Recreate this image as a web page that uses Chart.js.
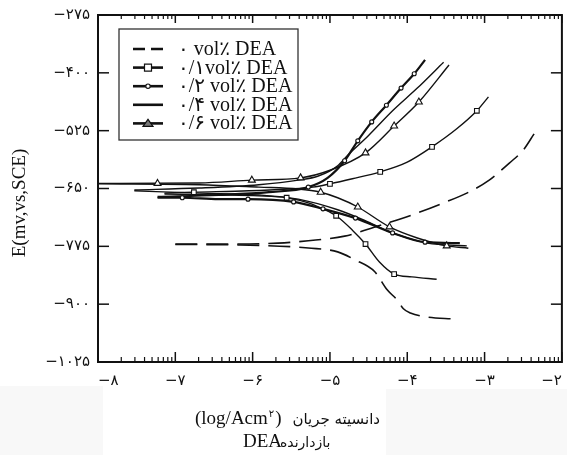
<!DOCTYPE html>
<html>
<head>
<meta charset="utf-8">
<script src="https://cdn.jsdelivr.net/npm/chart.js@4"></script>
<style>
  html, body { margin: 0; padding: 0; background: #fff; }
  #wrap { width: 567px; height: 455px; position: relative; }
</style>
</head>
<body>
<div id="wrap"><canvas id="myChart" width="567" height="455"></canvas></div>
<script>
// tick values and their persian labels
const xTickValues = [-8, -7, -6, -5, -4, -3, -2];
const xTickLabels = ["−۸", "−۷", "−۶", "−۵", "−۴", "−۳", "−۲"];
const yTickValues = [-275, -400, -525, -650, -775, -900, -1025];
const yTickLabels = ["−۲۷۵", "−۴۰۰", "−۵۲۵", "−۶۵۰", "−۷۷۵", "−۹۰۰", "−۱۰۲۵"];

const seriesNames = ["۰ vol٪ DEA", "۰/۱vol٪ DEA", "۰/۲ vol٪ DEA", "۰/۴ vol٪ DEA", "۰/۶ vol٪ DEA"];

// [log i, E] pairs, each branch starts at the corrosion potential
const blankAnodic = [[-7.0,-770],[-6.18,-770],[-5.67,-768],[-5.28,-763],[-4.81,-753],[-4.38,-731],[-4.13,-718],[-3.87,-703],[-3.53,-681],[-3.23,-660],[-2.94,-632],[-2.68,-595],[-2.50,-567],[-2.36,-532]];
const blankCathodic = [[-7.0,-771],[-6.18,-772],[-5.24,-779],[-4.90,-787],[-4.68,-804],[-4.42,-830],[-4.26,-869],[-4.13,-891],[-4.05,-910],[-3.96,-919],[-3.74,-928],[-3.40,-932]];

const dea01Anodic = [[-7.14,-660],[-6.76,-658],[-6.05,-655],[-5.54,-651],[-5.22,-647],[-5.0,-640],[-4.71,-629],[-4.35,-614],[-4.0,-593],[-3.68,-560],[-3.36,-521],[-3.10,-482],[-2.95,-452]];
const dea01Cathodic = [[-7.14,-662],[-6.44,-664],[-5.92,-666],[-5.56,-670],[-5.28,-681],[-5.09,-694],[-4.92,-709],[-4.71,-740],[-4.54,-770],[-4.36,-809],[-4.17,-835],[-3.94,-841],[-3.62,-846]];
const dea01Marks = [[-6.76,-658],[-5.0,-640],[-4.35,-614],[-3.68,-560],[-3.10,-482],[-5.56,-670],[-4.92,-709],[-4.54,-770],[-4.17,-835]];

const dea02Anodic = [[-7.23,-668],[-6.44,-664],[-5.79,-658],[-5.28,-647],[-5.03,-627],[-4.81,-590],[-4.64,-547],[-4.46,-506],[-4.27,-470],[-4.08,-433],[-3.91,-402],[-3.77,-372]];
const dea02Cathodic = [[-7.23,-670],[-6.91,-670],[-6.44,-673],[-6.06,-673],[-5.47,-679],[-5.09,-694],[-4.67,-714],[-4.19,-746],[-3.77,-766],[-3.32,-768]];
const dea02Marks = [[-5.28,-647],[-4.81,-590],[-4.64,-547],[-4.46,-506],[-4.27,-470],[-4.08,-433],[-3.91,-402],[-6.91,-670],[-6.06,-673],[-5.47,-679],[-5.09,-694],[-4.67,-714],[-4.19,-746],[-3.77,-766]];

const dea04Anodic = [[-7.53,-653],[-6.69,-649],[-5.92,-642],[-5.41,-632],[-5.15,-623],[-4.90,-601],[-4.77,-578],[-4.51,-537],[-4.19,-482],[-3.87,-433],[-3.53,-377]];
const dea04Cathodic = [[-7.53,-655],[-6.69,-660],[-5.92,-664],[-5.41,-673],[-4.90,-696],[-4.51,-722],[-4.19,-746],[-3.74,-768],[-3.23,-774]];

const dea06Anodic = [[-8,-639],[-6.69,-638],[-6.01,-632],[-5.38,-627],[-4.99,-610],[-4.54,-573],[-4.17,-515],[-3.85,-463],[-3.46,-383]];
const dea06Cathodic = [[-8,-640],[-6.69,-642],[-5.92,-647],[-5.41,-651],[-5.12,-658],[-4.90,-670],[-4.64,-690],[-4.23,-733],[-3.87,-757],[-3.49,-774],[-3.21,-779]];
const dea06Marks = [[-7.23,-639],[-6.01,-632],[-5.38,-627],[-4.54,-573],[-4.17,-515],[-3.85,-463],[-5.12,-658],[-4.64,-690],[-4.23,-733],[-3.49,-774]];

const INK = "#111";
const pts = (arr) => arr.map(([x, y]) => ({ x, y }));

const lineSet = (arr, extra = {}) => ({
  data: pts(arr),
  showLine: true,
  borderColor: INK,
  borderWidth: 1.4,
  pointRadius: 0,
  cubicInterpolationMode: "monotone",
  order: 2,
  ...extra,
});

const markSet = (arr, style, radius) => ({
  data: pts(arr),
  showLine: false,
  pointStyle: style,
  pointRadius: radius,
  pointBackgroundColor: "#fff",
  pointBorderColor: INK,
  pointBorderWidth: 1.1,
  order: 0,
});

const dashed = { borderDash: [22, 9], borderWidth: 1.6 };
const thick = { borderWidth: 2.2 };

const datasets = [
  lineSet(blankAnodic, dashed),
  lineSet(blankCathodic, dashed),
  lineSet(dea01Anodic),
  lineSet(dea01Cathodic),
  lineSet(dea02Anodic, thick),
  lineSet(dea02Cathodic, thick),
  lineSet(dea04Anodic),
  lineSet(dea04Cathodic),
  lineSet(dea06Anodic),
  lineSet(dea06Cathodic),
  markSet(dea01Marks, "rect", 3.3),
  markSet(dea02Marks, "circle", 2),
  markSet(dea06Marks, "triangle", 4),
];

// legend sample styles
const legendItems = [
  { dash: [12, 6], marker: null },
  { dash: [], marker: "rect" },
  { dash: [], marker: "circle" },
  { dash: [], marker: null },
  { dash: [], marker: "triangle" },
];

const drawMarker = (ctx, style, cx, cy, fill) => {
  ctx.save();
  ctx.fillStyle = fill;
  ctx.strokeStyle = INK;
  ctx.lineWidth = 1.2;
  ctx.beginPath();
  if (style === "rect") {
    ctx.rect(cx - 3.5, cy - 3.5, 7, 7);
  } else if (style === "circle") {
    ctx.arc(cx, cy, 2.2, 0, Math.PI * 2);
  } else if (style === "triangle") {
    ctx.moveTo(cx - 5, cy + 3);
    ctx.lineTo(cx + 5, cy + 3);
    ctx.lineTo(cx, cy - 4);
    ctx.closePath();
  }
  ctx.fill();
  ctx.stroke();
  ctx.restore();
};

const decorations = {
  id: "decorations",
  beforeDraw(chart) {
    const { ctx } = chart;
    ctx.save();
    ctx.fillStyle = "#f8f8f8";
    ctx.fillRect(0, 386, 103, 69);
    ctx.fillRect(386, 389, 181, 66);
    ctx.restore();
  },
  afterDraw(chart) {
    const { ctx, chartArea: a, scales } = chart;
    const x = scales.x, y = scales.y;
    ctx.save();
    ctx.strokeStyle = INK;

    // frame
    ctx.lineWidth = 2;
    ctx.strokeRect(a.left, a.top, a.right - a.left, a.bottom - a.top);

    const seg = (x1, y1, x2, y2) => {
      ctx.beginPath();
      ctx.moveTo(x1, y1);
      ctx.lineTo(x2, y2);
      ctx.stroke();
    };

    // x ticks, major and log minor, pointing inward
    ctx.lineWidth = 1.5;
    xTickValues.forEach((v) => {
      const px = x.getPixelForValue(v);
      seg(px, a.bottom, px, a.bottom - 10);
      seg(px, a.top, px, a.top + 8);
    });
    ctx.lineWidth = 1.2;
    for (let d = -8; d < -2; d++) {
      for (let k = 2; k <= 9; k++) {
        const px = x.getPixelForValue(d + Math.log10(k));
        seg(px, a.bottom, px, a.bottom - 5);
        seg(px, a.top, px, a.top + 4);
      }
    }
    // y ticks
    ctx.lineWidth = 1.5;
    yTickValues.forEach((v) => {
      const py = y.getPixelForValue(v);
      seg(a.left, py, a.left + 11, py);
      seg(a.right, py, a.right - 11, py);
    });

    // legend box
    const box = { l: 119, t: 29, r: 298, b: 140 };
    ctx.fillStyle = "#fff";
    ctx.fillRect(box.l, box.t, box.r - box.l, box.b - box.t);
    ctx.lineWidth = 1.3;
    ctx.strokeStyle = "#333";
    ctx.strokeRect(box.l, box.t, box.r - box.l, box.b - box.t);
    ctx.strokeStyle = INK;
    legendItems.forEach((it, i) => {
      const cy = 49 + i * 18.6;
      ctx.save();
      ctx.lineWidth = 2.6;
      ctx.setLineDash(it.dash);
      seg(133, cy, 163, cy);
      ctx.restore();
      if (it.marker) drawMarker(ctx, it.marker, 148, cy, it.marker === "triangle" ? "#777" : "#fff");
      ctx.fillStyle = INK;
      ctx.font = '20px "Liberation Serif", "DejaVu Sans"';
      ctx.textAlign = "left";
      ctx.textBaseline = "alphabetic";
      ctx.fillText(seriesNames[i], 178, cy + 6);
    });

    // y title
    ctx.save();
    ctx.translate(20, 203);
    ctx.rotate(-Math.PI / 2);
    ctx.fillStyle = INK;
    ctx.font = '19px "Liberation Serif"';
    ctx.textAlign = "center";
    ctx.textBaseline = "middle";
    ctx.fillText("E(mv,vs,SCE)", 0, 0);
    ctx.restore();

    // x title, two lines
    ctx.fillStyle = INK;
    ctx.textAlign = "left";
    ctx.textBaseline = "alphabetic";
    let cx = 195;
    ctx.font = '19px "Liberation Serif"';
    ctx.fillText("(log/Acm", cx, 424);
    cx += ctx.measureText("(log/Acm").width;
    ctx.font = '10px "DejaVu Sans"';
    ctx.fillText("۲", cx + 1, 417);
    cx += ctx.measureText("۲").width + 2;
    ctx.font = '19px "Liberation Serif"';
    ctx.fillText(")", cx, 424);
    ctx.font = '15px "DejaVu Sans"';
    ctx.direction = "rtl";
    ctx.textAlign = "right";
    ctx.fillText("دانسیته جریان", 380, 424);
    ctx.direction = "ltr";
    ctx.textAlign = "left";
    ctx.font = '19px "Liberation Serif"';
    ctx.fillText("DEA", 243, 447);
    ctx.font = '14px "DejaVu Sans"';
    ctx.direction = "rtl";
    ctx.textAlign = "left";
    ctx.fillText("بازدارنده", 280, 447);
    ctx.restore();
  },
};

const ctx = document.querySelector("canvas#myChart").getContext("2d");
const myChart = new Chart(ctx, {
  type: "scatter",
  data: { datasets },
  plugins: [decorations],
  options: {
    responsive: false,
    animation: false,
    layout: { padding: { top: 15, right: 1, left: 0, bottom: 0 } },
    plugins: { legend: { display: false }, tooltip: { enabled: false } },
    scales: {
      x: {
        type: "linear",
        min: -8,
        max: -2,
        afterFit: (s) => {
          s.height = 93;
          s.paddingLeft = 0;
          s.paddingRight = 0;
        },
        afterBuildTicks: (s) => { s.ticks = xTickValues.map((v) => ({ value: v })); },
        grid: { display: false, drawTicks: false },
        border: { display: false },
        ticks: {
          padding: 10,
          align: "inner",
          color: INK,
          font: { family: "DejaVu Sans", size: 15 },
          maxRotation: 0,
          callback: (v) => xTickLabels[xTickValues.indexOf(v)],
        },
      },
      y: {
        type: "linear",
        min: -1025,
        max: -275,
        afterFit: (s) => {
          s.width = 98;
          s.paddingTop = 0;
          s.paddingBottom = 0;
        },
        afterBuildTicks: (s) => { s.ticks = yTickValues.map((v) => ({ value: v })); },
        grid: { display: false, drawTicks: false },
        border: { display: false },
        ticks: {
          padding: 8,
          color: INK,
          font: { family: "DejaVu Sans", size: 15 },
          callback: (v) => yTickLabels[yTickValues.indexOf(v)],
        },
      },
    },
  },
});
</script>
</body>
</html>
